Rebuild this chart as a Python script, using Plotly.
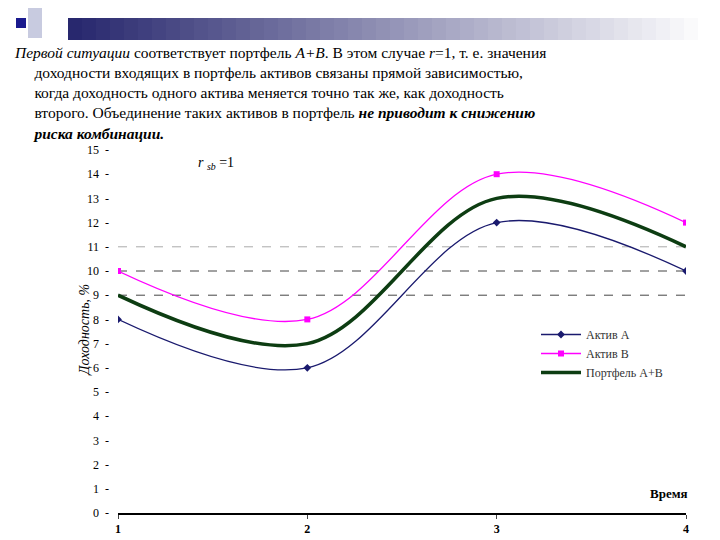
import plotly.graph_objects as go

times = [1, 2, 3, 4]
asset_a = [8, 6, 12, 10]
asset_b = [10, 8, 14, 12]
portfolio = [9, 7, 13, 11]
names = ["Актив А", "Актив В", "Портфель А+В"]
y_ticks = list(range(0, 16))

L, R, T, B = 110, 678, 142, 505
def px(x): return (x - L) / (R - L)
def py(y): return (B - y) / (B - T)

font = "'Liberation Serif', 'DejaVu Serif', serif"
fig = go.Figure()
fig.add_trace(go.Scatter(x=times, y=asset_a, name=names[0], mode="lines+markers",
    line=dict(color="#1a1a6e", width=1.3, shape="spline", smoothing=1.0),
    marker=dict(symbol="diamond", size=6, color="#1a1a6e")))
fig.add_trace(go.Scatter(x=times, y=asset_b, name=names[1], mode="lines+markers",
    line=dict(color="#ff00ff", width=1.3, shape="spline", smoothing=1.0),
    marker=dict(symbol="square", size=6, color="#ff00ff")))
fig.add_trace(go.Scatter(x=times, y=portfolio, name=names[2], mode="lines",
    line=dict(color="#0d3d12", width=3.5, shape="spline", smoothing=1.0)))

shapes = []
for yv, col in [(9, "#444"), (10, "#444"), (11, "#aaa")]:
    shapes.append(dict(type="line", xref="x", yref="y", x0=1, x1=4, y0=yv, y1=yv,
                       line=dict(color=col, width=1, dash="dash"), layer="below"))
n = 46
for i in range(n):
    f = i / (n - 1)
    r = int(40 + (255 - 40) * f); g = int(40 + (255 - 40) * f); b = int(110 + (255 - 110) * f)
    x0 = 60 + i * 14
    shapes.append(dict(type="rect", xref="paper", yref="paper", x0=px(x0), x1=px(x0 + 14),
                       y0=py(32), y1=py(10), fillcolor=f"rgb({r},{g},{b})", line=dict(width=0)))
shapes.append(dict(type="rect", xref="paper", yref="paper", x0=px(8), x1=px(18),
                   y0=py(20), y1=py(10), fillcolor="#1a1a8e", line=dict(width=0)))
shapes.append(dict(type="rect", xref="paper", yref="paper", x0=px(20), x1=px(34),
                   y0=py(30), y1=py(0), fillcolor="#c8cbe0", line=dict(width=0)))

sp = "&nbsp;" * 5
text = ("<i>Первой ситуации</i> соответствует портфель <i>А+В</i>. В этом случае <i>r</i>=1, т. е. значения<br>"
        f"{sp}доходности входящих в портфель активов связаны прямой зависимостью,<br>"
        f"{sp}когда доходность одного актива меняется точно так же, как доходность<br>"
        f"{sp}второго. Объединение таких активов в портфель <b><i>не приводит к снижению</i></b><br>"
        f"{sp}<b><i>риска комбинации.</i></b>")
ann = [
    dict(x=px(4), y=py(34), xref="paper", yref="paper", xanchor="left", yanchor="top",
         text=text, showarrow=False, align="left",
         font=dict(family=font, size=15.5, color="black")),
    dict(x=px(188), y=py(155), xref="paper", yref="paper", xanchor="left", yanchor="middle",
         text="<i>r</i> <sub><i>sb</i></sub> =1", showarrow=False, font=dict(family=font, size=14)),
    dict(x=px(682), y=py(485), xref="paper", yref="paper", xanchor="right", yanchor="middle",
         text="<b>Время</b>", showarrow=False, font=dict(family=font, size=13)),
    dict(x=px(66), y=py(322), xref="paper", yref="paper", textangle=-90,
         text="<i>Доходность, %</i>", showarrow=False, font=dict(family=font, size=14)),
]

fig.update_layout(
    width=720, height=540, paper_bgcolor="white", plot_bgcolor="white",
    margin=dict(l=L, r=720 - R, t=T, b=540 - B, autoexpand=False),
    showlegend=True,
    legend=dict(x=px(528), y=py(312), xanchor="left", yanchor="top", bgcolor="rgba(0,0,0,0)",
                font=dict(family=font, size=12, color="#333"), itemwidth=40, tracegroupgap=2),
    shapes=shapes, annotations=ann,
    font=dict(family=font, color="black"),
)
fig.update_xaxes(range=[1, 4], tickvals=times, ticktext=[f"<b>{t}</b>" for t in times],
                 showgrid=False, zeroline=False, showline=True, linecolor="black", linewidth=1.5,
                 ticks="outside", ticklen=4, tickfont=dict(size=12), automargin=False)
fig.update_yaxes(range=[0, 15], tickvals=y_ticks, ticktext=[f"{v}  -" for v in y_ticks],
                 showgrid=False, zeroline=False, showline=False, tickfont=dict(size=12),
                 ticklabelstandoff=8, automargin=False)
fig.write_html("out.html")
